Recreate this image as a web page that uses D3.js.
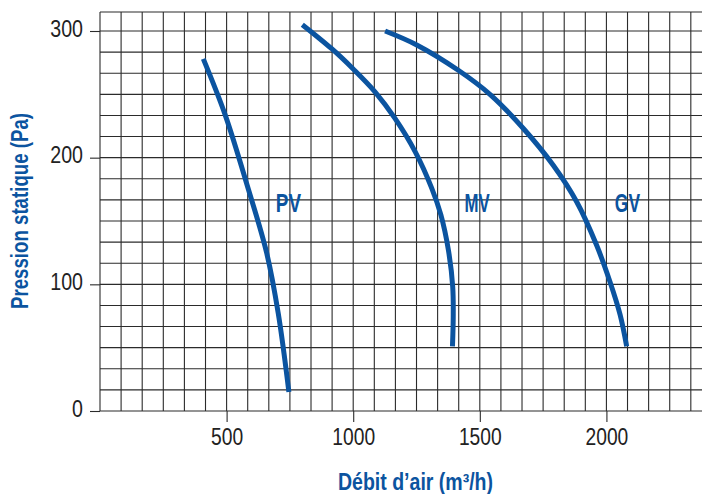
<!DOCTYPE html>
<html>
<head>
<meta charset="utf-8">
<script src="https://cdn.jsdelivr.net/npm/d3@7/dist/d3.min.js"></script>
<style>
  html, body { margin: 0; padding: 0; background: #fff; }
  svg { display: block; }
  .cond { font-family: "Liberation Sans Narrow", "Liberation Sans", Arial, sans-serif; }
</style>
</head>
<body>
<svg id="chart" width="702" height="494"></svg>
<script>
// Fan curves: static pressure (Pa) against air flow (m³/h)
const seriesNames = ["PV", "MV", "GV"];
const pvFlow = [408, 494, 586, 658, 704, 746];
const pvPressure = [278, 234, 175, 125, 77, 15];
const mvFlow = [799, 915, 1000, 1086, 1165, 1244, 1310, 1346, 1376, 1393, 1395, 1392];
const mvPressure = [305, 286, 270, 252, 231, 205, 176, 155, 127, 98, 74, 51];
const gvFlow = [1126, 1251, 1415, 1540, 1672, 1790, 1883, 1961, 2014, 2054, 2080];
const gvPressure = [300, 289, 269, 250, 223, 194, 165, 131, 102, 76, 51];
const labelFlow = [744, 1489, 2083];
const labelPressure = [157, 157, 157];
const xTickValues = [500, 1000, 1500, 2000];
const yTickValues = [0, 100, 200, 300];
const xTitle = "Débit d’air (m³/h)";
const yTitle = "Pression statique (Pa)";

const svg = d3.select("#chart");
const blue = "#0b54a0";
const gridColor = "#2b2b2b";

// condensed look: squeeze glyphs to a fixed advance per character
function condense(sel, perChar) {
  sel.attr("textLength", function () { return this.textContent.length * perChar; })
     .attr("lengthAdjust", "spacingAndGlyphs");
}

const x = d3.scaleLinear().domain([0, 2400]).range([100, 707.7]);
const y = d3.scaleLinear().domain([0, 315]).range([411, 12]);

// grid: 6 cells per 500 m³/h and 6 cells per 100 Pa
const xGrid = d3.range(0, 2401, 500 / 6);
const yGrid = d3.range(0, 300.1, 100 / 6).concat([315]);

const grid = svg.append("g");
grid.selectAll("line.v").data(xGrid).join("line")
  .attr("x1", d => x(d)).attr("x2", d => x(d))
  .attr("y1", y(315)).attr("y2", y(0))
  .attr("stroke", gridColor).attr("stroke-width", 1.1);
grid.selectAll("line.h").data(yGrid).join("line")
  .attr("x1", x(0)).attr("x2", x(2400))
  .attr("y1", d => y(d)).attr("y2", d => y(d))
  .attr("stroke", gridColor).attr("stroke-width", 1.1);

// axes
const xAxis = d3.axisBottom(x).tickValues(xTickValues).tickSize(11).tickPadding(6).tickFormat(d3.format("d"));
const gx = svg.append("g").attr("transform", `translate(0,${y(0)})`).call(xAxis);
gx.select(".domain").remove();
gx.selectAll(".tick line").attr("stroke", gridColor).attr("stroke-width", 1.1);
gx.selectAll(".tick text").attr("class", "cond").attr("font-size", 23).attr("fill", "#222")
  .attr("dy", "0.72em").call(condense, 10.7);

const yAxis = d3.axisLeft(y).tickValues(yTickValues).tickSize(10).tickPadding(7).tickFormat(d3.format("d"));
const gy = svg.append("g").attr("transform", `translate(${x(0)},0)`).call(yAxis);
gy.select(".domain").remove();
gy.selectAll(".tick line").attr("stroke", gridColor).attr("stroke-width", 1.1);
gy.selectAll(".tick text").attr("class", "cond").attr("font-size", 23).attr("fill", "#222")
  .attr("dy", "0.22em").call(condense, 10.9);

// curves
const series = [
  { name: seriesNames[0], flow: pvFlow, pressure: pvPressure },
  { name: seriesNames[1], flow: mvFlow, pressure: mvPressure },
  { name: seriesNames[2], flow: gvFlow, pressure: gvPressure }
];
const line = d3.line()
  .x(p => x(p[0])).y(p => y(p[1]))
  .curve(d3.curveCatmullRom.alpha(0.5));
svg.append("g").selectAll("path").data(series).join("path")
  .attr("d", s => line(s.flow.map((f, i) => [f, s.pressure[i]])))
  .attr("fill", "none").attr("stroke", blue).attr("stroke-width", 5);

// curve names
svg.append("g").selectAll("text").data(series).join("text")
  .attr("class", "cond")
  .attr("x", (s, i) => x(labelFlow[i])).attr("y", (s, i) => y(labelPressure[i]))
  .attr("text-anchor", "middle").attr("font-size", 25).attr("font-weight", "bold")
  .attr("fill", blue).text(s => s.name).call(condense, 12.6);

// axis titles
svg.append("text").attr("class", "cond")
  .attr("x", 415.5).attr("y", 490)
  .attr("text-anchor", "middle").attr("font-size", 23).attr("font-weight", "bold")
  .attr("fill", blue).text(xTitle)
  .attr("textLength", 155).attr("lengthAdjust", "spacingAndGlyphs");
svg.append("text").attr("class", "cond")
  .attr("transform", `translate(28,211) rotate(-90)`)
  .attr("text-anchor", "middle").attr("font-size", 23).attr("font-weight", "bold")
  .attr("fill", blue).text(yTitle)
  .attr("textLength", 196).attr("lengthAdjust", "spacingAndGlyphs");
</script>
</body>
</html>
